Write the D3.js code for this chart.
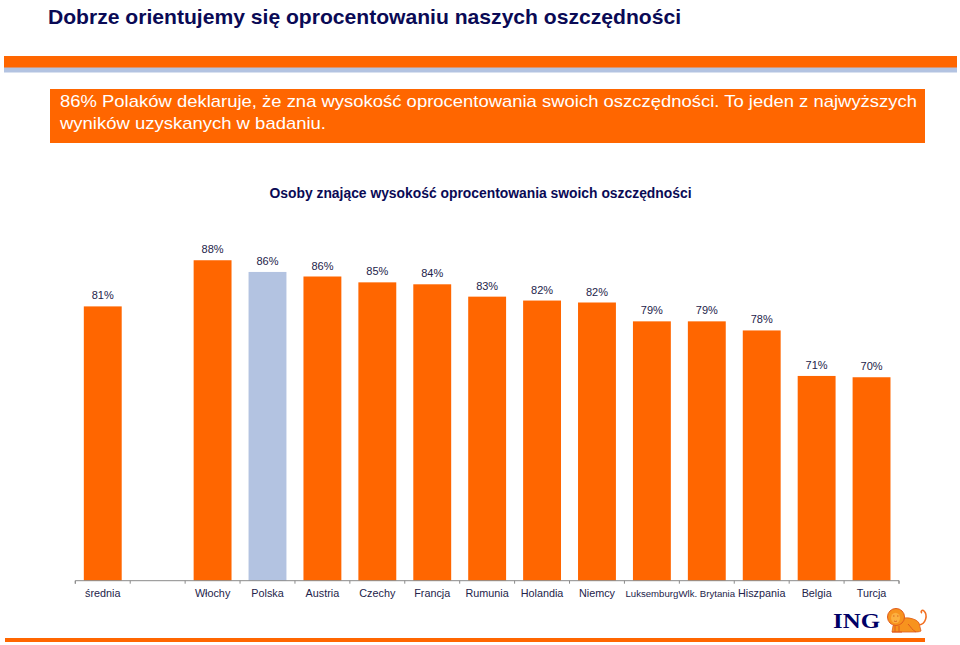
<!DOCTYPE html>
<html>
<head>
<meta charset="utf-8">
<script src="https://cdn.jsdelivr.net/npm/d3@7"></script>
<style>
  html, body { margin: 0; padding: 0; background: #fff; }
  svg { display: block; }
</style>
</head>
<body>
<svg id="chart" width="960" height="645"></svg>
<script>
// ---- data ----
const categories = ["średnia", " ", "Włochy", "Polska", "Austria", "Czechy", "Francja", "Rumunia",
  "Holandia", "Niemcy", "Luksemburg", "Wlk. Brytania", "Hiszpania", "Belgia", "Turcja"];
const values = [80.9, null, 88.0, 86.2, 85.5, 84.6, 84.3, 82.4, 81.8, 81.5, 78.6, 78.6, 77.2, 70.2, 70.0];
const valueLabels = ["81%", "", "88%", "86%", "86%", "85%", "84%", "83%", "82%", "82%", "79%", "79%", "78%", "71%", "70%"];
const highlight = ["Polska"];

const titleText = "Dobrze orientujemy się oprocentowaniu naszych oszczędności";
const boxLines = ["86% Polaków deklaruje, że zna wysokość oprocentowania swoich oszczędności. To jeden z najwyższych",
  "wyników uzyskanych w badaniu."];
const chartTitle = "Osoby znające wysokość oprocentowania swoich oszczędności";

// ---- styles ----
const SANS = "'Liberation Sans', Arial, Helvetica, sans-serif";
const SERIF = "'Liberation Serif', 'Times New Roman', serif";
const ORANGE = "#FF6600";
const LIGHTBLUE = "#B3C3E1";
const NAVY = "#0A0A55";
const LABEL = "#23234A";

const svg = d3.select("#chart");

// header title
svg.append("text")
  .attr("x", 48).attr("y", 24)
  .style("font-family", SANS)
  .attr("font-size", 20.5).attr("font-weight", "bold")
  .attr("fill", NAVY)
  .attr("textLength", 633).attr("lengthAdjust", "spacingAndGlyphs")
  .text(titleText);

// top band
svg.append("rect").attr("x", 4).attr("y", 67).attr("width", 953).attr("height", 5.5).attr("fill", LIGHTBLUE);
svg.append("rect").attr("x", 4).attr("y", 56).attr("width", 953).attr("height", 11.5).attr("fill", ORANGE);

// orange message box
svg.append("rect").attr("x", 50).attr("y", 89).attr("width", 875).attr("height", 54).attr("fill", ORANGE);
svg.append("text")
  .attr("x", 60).attr("y", 107)
  .style("font-family", SANS)
  .attr("font-size", 17).attr("fill", "#fff")
  .attr("textLength", 857).attr("lengthAdjust", "spacingAndGlyphs")
  .text(boxLines[0]);
svg.append("text")
  .attr("x", 60).attr("y", 129)
  .style("font-family", SANS)
  .attr("font-size", 17).attr("fill", "#fff")
  .attr("textLength", 266).attr("lengthAdjust", "spacingAndGlyphs")
  .text(boxLines[1]);

// chart title
svg.append("text")
  .attr("x", 480.5).attr("y", 198)
  .attr("text-anchor", "middle")
  .style("font-family", SANS)
  .attr("font-size", 14).attr("font-weight", "bold")
  .attr("fill", NAVY)
  .attr("textLength", 422).attr("lengthAdjust", "spacingAndGlyphs")
  .text(chartTitle);

// scales
const x0 = 75.3, x1 = 899, yBase = 580.7;
const x = d3.scaleBand().domain(categories).range([x0, x1]).paddingInner(0.31).paddingOuter(0.155);
const y = d3.scaleLinear().domain([38.7, 100]).range([yBase, yBase - 61.3 * 6.5]);

const data = categories.map((c, i) => ({ c, v: values[i], label: valueLabels[i] }));

// bars
svg.append("g").selectAll("rect")
  .data(data.filter(d => d.v != null))
  .join("rect")
  .attr("x", d => x(d.c))
  .attr("y", d => y(d.v))
  .attr("width", x.bandwidth())
  .attr("height", d => y(y.domain()[0]) - y(d.v))
  .attr("fill", d => highlight.includes(d.c) ? LIGHTBLUE : ORANGE);

// value labels
svg.append("g").selectAll("text")
  .data(data.filter(d => d.v != null))
  .join("text")
  .attr("x", d => x(d.c) + x.bandwidth() / 2)
  .attr("y", d => y(d.v) - 7)
  .attr("text-anchor", "middle")
  .style("font-family", SANS)
  .attr("font-size", 11)
  .attr("fill", LABEL)
  .text(d => d.label);

// x axis: labels centered, ticks at band boundaries
const axis = svg.append("g").attr("transform", `translate(0,${yBase})`)
  .call(d3.axisBottom(x).tickSize(0).tickPadding(9));
axis.select(".domain").attr("stroke", "#8a8a8a").attr("d", `M${x0},3V0H${x1}V3`);
axis.selectAll(".tick text")
  .style("font-family", SANS)
  .attr("font-size", d => d.length > 9 ? 9.6 : 10.8)
  .attr("fill", LABEL)
  .attr("dy", "0.71em");

const boundaries = d3.range(categories.length + 1).map(i => x0 + x.step() * i);
svg.append("g").selectAll("line")
  .data(boundaries)
  .join("line")
  .attr("x1", d => d).attr("x2", d => d)
  .attr("y1", yBase).attr("y2", yBase + 3)
  .attr("stroke", "#8a8a8a");

// bottom line
svg.append("rect").attr("x", 5).attr("y", 638).attr("width", 920).attr("height", 4).attr("fill", ORANGE);

// ING logo
svg.append("text")
  .attr("x", 833).attr("y", 628)
  .style("font-family", SERIF)
  .attr("font-size", 20).attr("font-weight", "bold")
  .attr("fill", "#000066")
  .attr("textLength", 47).attr("lengthAdjust", "spacingAndGlyphs")
  .text("ING");

const lion = svg.append("g").attr("transform", "translate(886,606)");
// body
lion.append("path")
  .attr("d", "M12,14 C18,10 30,12 33,17 L35,25 C34,26 30,26 28,26 L6,26 L7,20 Z")
  .attr("fill", "#F7931E").attr("stroke", "#E05A1B").attr("stroke-width", 0.8);
// mane
lion.append("circle").attr("cx", 10).attr("cy", 11).attr("r", 8.5)
  .attr("fill", "#F7931E").attr("stroke", "#E05A1B").attr("stroke-width", 1);
// face
lion.append("ellipse").attr("cx", 9.5).attr("cy", 12).attr("rx", 4.5).attr("ry", 5.2).attr("fill", "#FBB040");
lion.append("path").attr("d", "M7,10 h1.5 M11,10 h1.5 M8,15 q1.5,1 3,0")
  .attr("stroke", "#D0501A").attr("stroke-width", 0.8).attr("fill", "none");
// legs
lion.append("path").attr("d", "M6,26 L16,26 M9,20 L9,26 M13,20 L13,26 M22,18 C25,21 26,24 30,26")
  .attr("stroke", "#E05A1B").attr("stroke-width", 1).attr("fill", "none");
// tail
lion.append("path")
  .attr("d", "M33,19 C40,18 42,9 38,5 C36,3 34,6 36,7")
  .attr("fill", "none").attr("stroke", "#F26F21").attr("stroke-width", 1.6);
</script>
</body>
</html>
